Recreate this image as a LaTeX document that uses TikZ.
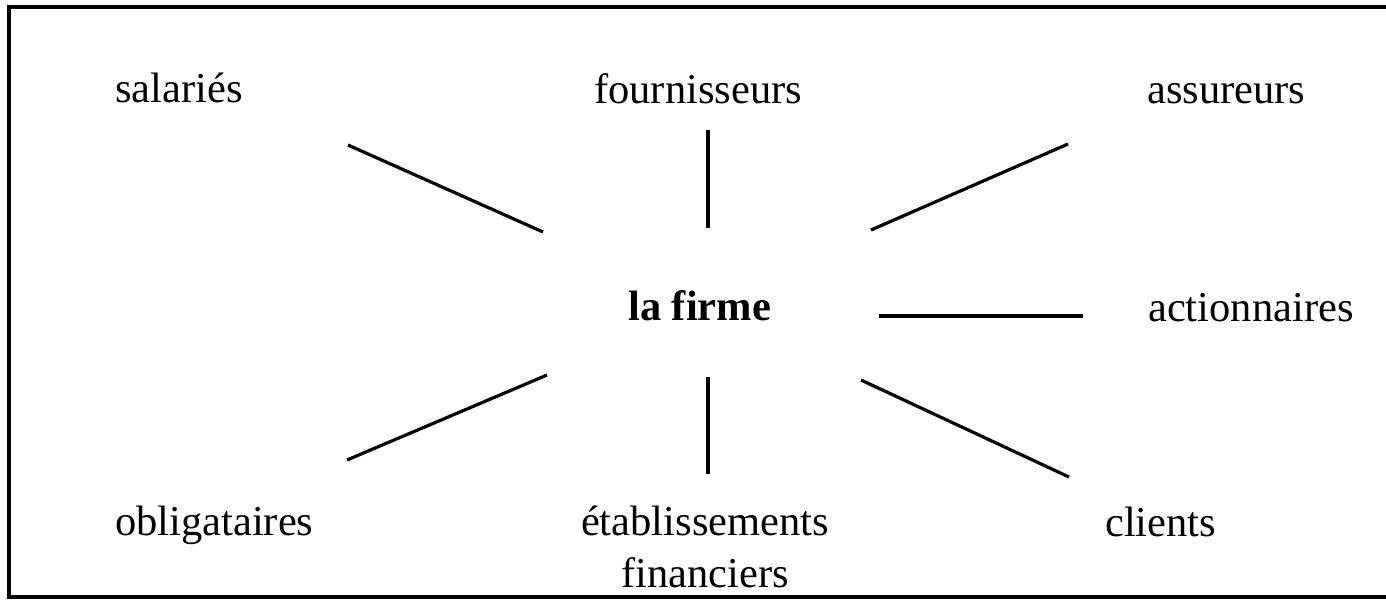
\documentclass[tikz,border=0pt]{standalone}
\usepackage{fontspec}
\setmainfont{Liberation Serif}
\begin{document}
\begin{tikzpicture}[x=1pt,y=-1pt,
  lbl/.style={inner sep=0pt,anchor=base west,font=\fontsize{42.5}{52}\selectfont},
  link/.style={line width=3.2pt},
  frame/.style={line width=3.5pt}]
\useasboundingbox[fill=white] (0,0) rectangle (1386,600);
\draw[frame] (1400,7) -- (9,7) -- (9,597) -- (1400,597);
% nodes
\node[lbl] (salaries) at (115,102) {salariés};
\node[lbl] (fourn) at (594,103) {fournisseurs};
\node[lbl] (assur) at (1147,103) {assureurs};
\node[lbl,font=\fontsize{42.5}{52}\selectfont\bfseries] (firme) at (628,320) {la firme};
\node[lbl] (action) at (1148,321) {actionnaires};
\node[lbl] (oblig) at (115,535) {obligataires};
\node[lbl,anchor=base,align=center] (etab) at (705,587) {établissements\\financiers};
\node[lbl] (clients) at (1105,536) {clients};
% connector ends
\coordinate (sA) at (348,145); \coordinate (sB) at (543,232);
\coordinate (fA) at (708,130); \coordinate (fB) at (708,228);
\coordinate (aA) at (1068,144); \coordinate (aB) at (871,230);
\coordinate (cA) at (879,316); \coordinate (cB) at (1083,316);
\coordinate (oA) at (347,460); \coordinate (oB) at (547,375);
\coordinate (eA) at (708,377); \coordinate (eB) at (708,474);
\coordinate (kA) at (861,380); \coordinate (kB) at (1069,477);
\draw[link] (sA) -- (sB);
\draw[link] (fA) -- (fB);
\draw[link] (aA) -- (aB);
\draw[link] (cA) -- (cB);
\draw[link] (oA) -- (oB);
\draw[link] (eA) -- (eB);
\draw[link] (kA) -- (kB);
\end{tikzpicture}
\end{document}
